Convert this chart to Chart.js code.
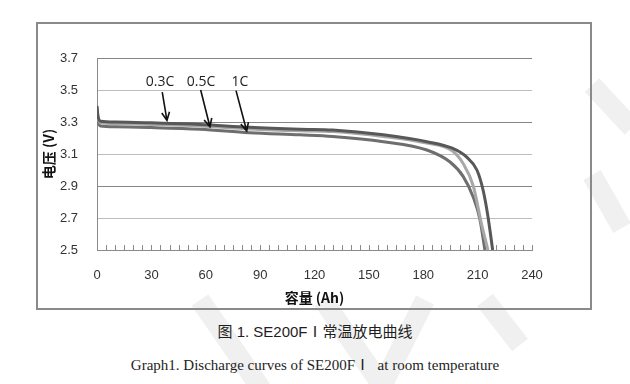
<!DOCTYPE html>
<html>
<head>
<meta charset="utf-8">
<script src="https://cdn.jsdelivr.net/npm/chart.js@4.4.1/dist/chart.umd.min.js"></script>
<style>
  body { margin: 0; background: #fff; width: 630px; height: 384px; overflow: hidden; position: relative; }
  #mark { position: absolute; left: 0; top: 0; }
  #frame { position: absolute; left: 36px; top: 22px; width: 552px; height: 284px; border: 2px solid #8a8a8a; }
  #wrap { position: absolute; left: 0; top: 0; width: 630px; height: 310px; }
  .cap { position: absolute; left: 0; width: 630px; text-align: center; color: #1e1e1e; white-space: pre; }
  #cap1 { top: 320px; font: 15px "Liberation Sans", "Noto Sans CJK SC"; }
  #cap2 { top: 353px; font: 15px "Liberation Serif", "Noto Sans CJK SC"; }
</style>
</head>
<body>
<svg id="mark" width="630" height="384">
  <g stroke="#f0f0f0" stroke-width="20" fill="none" stroke-linecap="butt">
    <path d="M592 85 L632 128"/>
    <path d="M592 175 L622 228"/>
    <path d="M323 300 L385 390"/>
    <path d="M425 300 L380 390"/>
    <path d="M485 300 L520 345"/>
    <path d="M200 300 L262 390"/>
  </g>
</svg>
<div id="frame"></div>
<div id="wrap"><canvas id="chart"></canvas></div>
<div class="cap" id="cap1">图 1. SE200FⅠ常温放电曲线</div>
<div class="cap" id="cap2">Graph1. Discharge curves of SE200FⅠ  at room temperature</div>
<script>
// capacity (Ah) / voltage (V)
const cap03 = [0, 0.5, 2, 10, 30, 57, 84, 112, 130, 158, 182, 196, 204, 209.6, 213, 215.7, 218.3];
const volt03 = [3.40, 3.34, 3.305, 3.30, 3.295, 3.285, 3.267, 3.255, 3.25, 3.22, 3.177, 3.136, 3.08, 3.0, 2.875, 2.71, 2.5];

const cap05 = [0, 0.5, 2, 10, 30, 57, 84, 112, 130, 158, 182, 196, 202, 207.6, 212, 215.7];
const volt05 = [3.39, 3.33, 3.295, 3.29, 3.285, 3.275, 3.257, 3.245, 3.24, 3.21, 3.168, 3.12, 3.04, 2.9, 2.67, 2.5];

const cap1 = [0, 0.5, 2, 10, 30, 57, 84, 112, 130, 158, 182, 194.8, 202, 207.6, 211.3, 214];
const volt1 = [3.38, 3.31, 3.275, 3.27, 3.265, 3.254, 3.233, 3.22, 3.21, 3.177, 3.125, 3.05, 2.96, 2.83, 2.69, 2.5];

const rateLabels = ['0.3C', '0.5C', '1C'];

function pts(xs, ys) {
    return xs.map((x, i) => ({ x: x, y: ys[i] }));
}

// label + arrow placement (data coordinates)
const arrows = [
    { text: rateLabels[0], lx: 34.8, ly: 3.55, x0: 36, y0: 3.486, x1: 38.6, y1: 3.31 },
    { text: rateLabels[1], lx: 57.4, ly: 3.55, x0: 57.2, y0: 3.50, x1: 62.3, y1: 3.27 },
    { text: rateLabels[2], lx: 78.9, ly: 3.55, x0: 76.7, y0: 3.496, x1: 82.6, y1: 3.244 }
];

const minorTicks = {
    id: 'minorTicks',
    beforeDatasetsDraw(chart) {
        const ctx = chart.ctx;
        const xs = chart.scales.x;
        const bottom = chart.chartArea.bottom;
        ctx.save();
        ctx.strokeStyle = '#8a8a8a';
        ctx.lineWidth = 1;
        for (let v = 5; v <= 240; v += 5) {
            const px = Math.round(xs.getPixelForValue(v)) + 0.5;
            ctx.beginPath();
            ctx.moveTo(px, bottom);
            ctx.lineTo(px, bottom - 5);
            ctx.stroke();
        }
        ctx.restore();
    }
};

const callouts = {
    id: 'callouts',
    afterDatasetsDraw(chart) {
        const ctx = chart.ctx;
        const xs = chart.scales.x, ys = chart.scales.y;
        ctx.save();
        ctx.strokeStyle = '#111';
        ctx.fillStyle = '#222';
        ctx.lineWidth = 1.6;
        ctx.font = '14px "Open Sans"';
        ctx.textAlign = 'center';
        ctx.textBaseline = 'middle';
        arrows.forEach(a => {
            ctx.fillText(a.text, xs.getPixelForValue(a.lx), ys.getPixelForValue(a.ly));
            const x0 = xs.getPixelForValue(a.x0), y0 = ys.getPixelForValue(a.y0);
            const x1 = xs.getPixelForValue(a.x1), y1 = ys.getPixelForValue(a.y1);
            const ang = Math.atan2(y1 - y0, x1 - x0);
            ctx.beginPath();
            ctx.moveTo(x0, y0);
            ctx.lineTo(x1, y1);
            ctx.moveTo(x1 - 9 * Math.cos(ang - 0.45), y1 - 9 * Math.sin(ang - 0.45));
            ctx.lineTo(x1, y1);
            ctx.lineTo(x1 - 9 * Math.cos(ang + 0.45), y1 - 9 * Math.sin(ang + 0.45));
            ctx.stroke();
        });
        ctx.restore();
    }
};

const data = {
    datasets: [
        { label: rateLabels[0], data: pts(cap03, volt03), borderColor: '#585858' },
        { label: rateLabels[1], data: pts(cap05, volt05), borderColor: '#a8a8a8' },
        { label: rateLabels[2], data: pts(cap1, volt1), borderColor: '#6e6e6e' }
    ]
};

const config = {
    type: 'line',
    data: data,
    options: {
        responsive: true,
        maintainAspectRatio: false,
        animation: false,
        layout: { padding: { left: 36, top: 58, right: 98, bottom: 0 } },
        elements: {
            line: { borderWidth: 3, cubicInterpolationMode: 'monotone', fill: false },
            point: { radius: 0 }
        },
        plugins: {
            legend: { display: false },
            tooltip: { enabled: false }
        },
        scales: {
            x: {
                type: 'linear',
                min: 0,
                max: 240,
                afterFit: s => { s.height = 60; },
                ticks: {
                    stepSize: 30,
                    padding: 18,
                    maxRotation: 0,
                    color: '#333',
                    font: { family: '"Liberation Sans"', size: 13 }
                },
                grid: { drawOnChartArea: false, drawTicks: false },
                border: { color: '#8a8a8a', width: 1 },
                title: {
                    display: true,
                    text: '容量 (Ah)',
                    color: '#111',
                    padding: { top: 0, bottom: 4 },
                    font: { family: '"Noto Sans CJK SC"', size: 14, weight: 'bold' }
                }
            },
            y: {
                min: 2.5,
                max: 3.7,
                afterFit: s => { s.width = 61; },
                ticks: {
                    stepSize: 0.2,
                    padding: 19,
                    color: '#333',
                    font: { family: '"Liberation Sans"', size: 13 },
                    callback: v => v.toFixed(1)
                },
                grid: {
                    drawTicks: false,
                    color: c => (c.index % 2 === 0 ? '#868686' : '#bdbdbd')
                },
                border: { color: '#8a8a8a', width: 1 },
                title: {
                    display: true,
                    text: '电压 (V)',
                    color: '#111',
                    padding: { top: 4, bottom: 0 },
                    font: { family: '"Noto Sans CJK SC"', size: 14, weight: 'bold' }
                }
            }
        }
    },
    plugins: [minorTicks, callouts]
};

new Chart(document.getElementById('chart'), config);
</script>
</body>
</html>
